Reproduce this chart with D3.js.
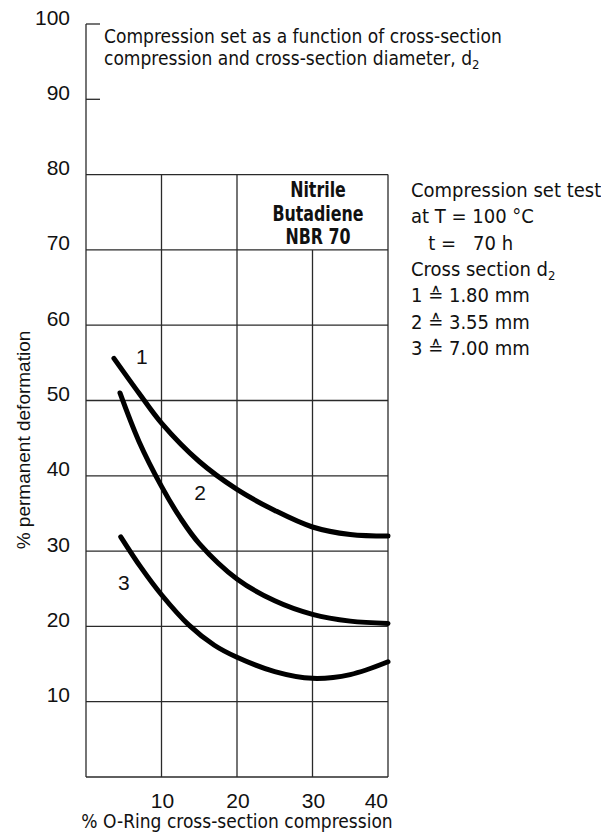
<!DOCTYPE html>
<html>
<head>
<meta charset="utf-8">
<script src="https://cdn.jsdelivr.net/npm/d3@7"></script>
<style>
  html, body { margin: 0; padding: 0; background: #fff; }
  svg { display: block; }
  .narrow { font-family: "Liberation Sans Narrow", "DejaVu Sans Condensed", "Roboto Condensed", sans-serif; }
  .reg { font-family: "Liberation Sans", Arial, Helvetica, sans-serif; }
</style>
</head>
<body>
<div id="chart"></div>
<script>
// ---- data ----
const xTicks = [10, 20, 30, 40];
const yTicks = [10, 20, 30, 40, 50, 60, 70, 80, 90, 100];
const curveLabels = ["1", "2", "3"];
// curve 1 : d2 = 1.80 mm
const curve1 = [[3.7, 55.6], [7, 51.0], [10, 47.0], [15, 41.9], [20, 38.2], [25, 35.4], [30, 33.2], [35, 32.2], [40, 32.0]];
// curve 2 : d2 = 3.55 mm
const curve2 = [[4.5, 51.0], [7, 44.6], [10, 38.6], [12.5, 34.4], [15, 31.0], [20, 26.3], [25, 23.4], [30, 21.6], [35, 20.7], [40, 20.4]];
// curve 3 : d2 = 7.00 mm
const curve3 = [[4.6, 31.9], [7.3, 27.8], [10, 24.2], [13.6, 20.2], [17, 17.5], [20, 15.9], [25, 14.0], [30, 13.1], [35, 13.6], [40, 15.3]];
const titleLines = ["Compression set as a function of cross-section", "compression and cross-section diameter, d"];
const materialLines = ["Nitrile", "Butadiene", "NBR 70"];
const testLines = ["Compression set test", "at T = 100 °C", "   t =   70 h", "Cross section d", "1 ≙ 1.80 mm", "2 ≙ 3.55 mm", "3 ≙ 7.00 mm"];
const xTitle = "% O-Ring cross-section compression";
const yTitle = "% permanent deformation";

// ---- layout ----
const W = 601, H = 839;
const svg = d3.select("#chart").append("svg").attr("width", W).attr("height", H);

const x = d3.scaleLinear().domain([0, 40]).range([86, 388]);
const y = d3.scaleLinear().domain([0, 100]).range([777, 24]);

const gridColor = "#2a2a2a";
const g = svg.append("g");

// horizontal grid lines 0..80
g.selectAll("line.h").data(d3.range(0, 90, 10)).join("line")
  .attr("x1", x(0)).attr("x2", x(40))
  .attr("y1", d => y(d)).attr("y2", d => y(d))
  .attr("stroke", gridColor).attr("stroke-width", 1.3);

// vertical grid lines (30 stops at 70 because of material box)
const vTop = {10: 80, 20: 80, 30: 70, 40: 80};
g.selectAll("line.v").data(xTicks).join("line")
  .attr("x1", d => x(d)).attr("x2", d => x(d))
  .attr("y1", y(0)).attr("y2", d => y(vTop[d]))
  .attr("stroke", gridColor).attr("stroke-width", 1.3);

// left axis full height
g.append("line").attr("x1", x(0)).attr("x2", x(0)).attr("y1", y(0)).attr("y2", y(100))
  .attr("stroke", gridColor).attr("stroke-width", 1.3);
// small ticks at 90 and 100
g.selectAll("line.t").data([90, 100]).join("line")
  .attr("x1", x(0)).attr("x2", x(0) + 14)
  .attr("y1", d => y(d)).attr("y2", d => y(d))
  .attr("stroke", gridColor).attr("stroke-width", 1.3);

// y tick labels
svg.append("g").selectAll("text").data(yTicks).join("text")
  .attr("class", "reg")
  .attr("x", 70).attr("y", d => y(d) + 0.5)
  .attr("text-anchor", "end").attr("font-size", 21).attr("fill", "#111")
  .text(d => d);

// x tick labels
svg.append("g").selectAll("text").data(xTicks).join("text")
  .attr("class", "reg")
  .attr("x", (d, i) => i === xTicks.length - 1 ? x(d) : x(d) + 1)
  .attr("y", 808)
  .attr("text-anchor", (d, i) => i === xTicks.length - 1 ? "end" : "middle")
  .attr("font-size", 21).attr("fill", "#111")
  .text(d => d);

// axis titles
svg.append("text").attr("class", "narrow")
  .attr("x", 237).attr("y", 828).attr("text-anchor", "middle")
  .attr("font-size", 19).attr("fill", "#111").text(xTitle);

svg.append("text").attr("class", "reg")
  .attr("transform", "translate(30,440) rotate(-90)")
  .attr("text-anchor", "middle").attr("font-size", 19).attr("fill", "#111").text(yTitle);

// title
const t = svg.append("text").attr("class", "narrow").attr("font-size", 19).attr("fill", "#111");
t.append("tspan").attr("x", 104).attr("y", 43).text(titleLines[0]);
t.append("tspan").attr("x", 104).attr("y", 65).text(titleLines[1]);
t.append("tspan").attr("dy", 4).attr("font-size", 13).text("2");

// material box text (condensed bold)
svg.append("g").selectAll("text").data(materialLines).join("text")
  .attr("class", "narrow").attr("font-weight", "bold")
  .attr("transform", (d, i) => `translate(318,${197 + i * 23.5}) scale(0.8,1)`)
  .attr("text-anchor", "middle").attr("font-size", 22).attr("fill", "#111")
  .text(d => d);

// test conditions text
const tg = svg.append("g");
testLines.forEach((line, i) => {
  const tx = tg.append("text").attr("class", "narrow")
    .attr("x", 411).attr("y", 197 + i * 26.3)
    .attr("font-size", 20).attr("fill", "#111")
    .style("white-space", "pre").text(line);
  if (i === 3) tx.append("tspan").attr("dy", 4).attr("font-size", 13).text("2");
});

// curves
const line = d3.line().x(d => x(d[0])).y(d => y(d[1])).curve(d3.curveCatmullRom.alpha(0.5));
const curves = [curve1, curve2, curve3];
svg.append("g").selectAll("path").data(curves).join("path")
  .attr("d", line).attr("fill", "none").attr("stroke", "#000")
  .attr("stroke-width", 5).attr("stroke-linecap", "round");

// curve labels
const labelPos = [[7.4, 54.8], [15.1, 36.8], [5.0, 24.9]];
svg.append("g").selectAll("text").data(curveLabels).join("text")
  .attr("class", "reg")
  .attr("x", (d, i) => x(labelPos[i][0])).attr("y", (d, i) => y(labelPos[i][1]))
  .attr("text-anchor", "middle").attr("font-size", 21).attr("fill", "#111")
  .text(d => d);
</script>
</body>
</html>
